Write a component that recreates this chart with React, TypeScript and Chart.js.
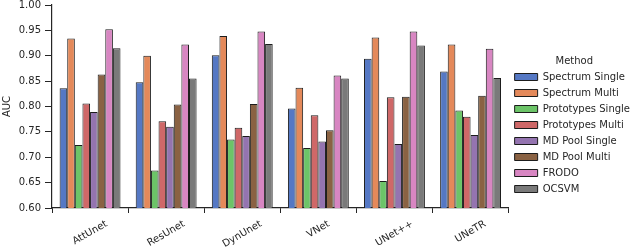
import React, { useEffect, useRef } from "react";
import { Chart, registerables, CategoryScale } from "chart.js";

const categories = ["AttUnet", "ResUnet", "DynUnet", "VNet", "UNet++", "UNeTR"];
const methods = [
  "Spectrum Single",
  "Spectrum Multi",
  "Prototypes Single",
  "Prototypes Multi",
  "MD Pool Single",
  "MD Pool Multi",
  "FRODO",
  "OCSVM",
];
const spectrumSingle = [0.836, 0.848, 0.901, 0.796, 0.894, 0.869];
const spectrumMulti = [0.934, 0.9, 0.939, 0.837, 0.936, 0.922];
const prototypesSingle = [0.724, 0.674, 0.735, 0.718, 0.653, 0.792];
const prototypesMulti = [0.806, 0.771, 0.758, 0.783, 0.818, 0.78];
const mdPoolSingle = [0.789, 0.76, 0.742, 0.731, 0.726, 0.744];
const mdPoolMulti = [0.863, 0.804, 0.805, 0.753, 0.819, 0.821];
const frodo = [0.952, 0.922, 0.948, 0.861, 0.948, 0.914];
const ocsvm = [0.915, 0.855, 0.923, 0.855, 0.92, 0.856];
const yTicks = [0.6, 0.65, 0.7, 0.75, 0.8, 0.85, 0.9, 0.95, 1.0];

const seriesValues = [
  spectrumSingle,
  spectrumMulti,
  prototypesSingle,
  prototypesMulti,
  mdPoolSingle,
  mdPoolMulti,
  frodo,
  ocsvm,
];
const colors = [
  "#5578c4",
  "#e4895a",
  "#6cc468",
  "#cf6868",
  "#9474b0",
  "#8a6243",
  "#d886c2",
  "#7a7a7a",
];

const FONT = "'DejaVu Sans', sans-serif";
const TEXT = "#262626";
const FS = 10;

// Category scale whose rotated labels are centred on the tick (matplotlib style)
class CenteredCategoryScale extends (CategoryScale as any) {
  static id = "centeredCategory";
  static defaults = (CategoryScale as any).defaults;
  _computeLabelItems(chartArea: any) {
    const items = super._computeLabelItems(chartArea);
    const ctx = this.ctx;
    const rot = (this.labelRotation * Math.PI) / 180;
    const grid = this.options.grid;
    const tl = grid.display && grid.drawTicks ? grid.tickLength : 0;
    const pad = this.options.ticks.padding;
    items.forEach((item: any, i: number) => {
      ctx.save();
      ctx.font = item.font.string;
      const w = ctx.measureText(String(item.label)).width;
      ctx.restore();
      const h = item.font.lineHeight;
      const vExt = w * Math.sin(rot) + h * Math.cos(rot);
      const x = this.getPixelForTick(i);
      const y = this.top + tl + pad + vExt / 2;
      item.options.translation = [x, y];
      item.options.textAlign = "center";
      item.options.textBaseline = "middle";
      item.textOffset = 0;
    });
    return items;
  }
}

Chart.register(...registerables, CenteredCategoryScale as any);

export default function App() {
  const ref = useRef<HTMLCanvasElement | null>(null);
  useEffect(() => {
    if (!ref.current) return;
    const chart = new Chart(ref.current, {
      type: "bar",
      data: {
        labels: categories,
        datasets: methods.map((m, i) => ({
          label: m,
          data: seriesValues[i],
          backgroundColor: colors[i],
          borderColor: "#1c1c1c",
          borderWidth: 1,
          categoryPercentage: 0.8,
          barPercentage: 1.0,
          borderSkipped: false,
        })),
      },
      options: {
        responsive: false,
        animation: false,
        datasets: { bar: { categoryPercentage: 0.8, barPercentage: 1.0 } },
        layout: { padding: { top: 0, right: 0, left: 0, bottom: 0 } },
        plugins: {
          tooltip: { enabled: false },
          legend: {
            position: "right",
            align: "center",
            title: {
              display: true,
              text: "Method",
              color: TEXT,
              font: { family: FONT, size: FS },
              padding: { top: 7, bottom: -2 },
            },
            labels: {
              boxWidth: 23,
              boxHeight: 7,
              padding: 6,
              color: TEXT,
              font: { family: FONT, size: FS },
            },
          },
        },
        scales: {
          x: {
            type: "centeredCategory" as any,
            grid: {
              drawOnChartArea: false,
              drawTicks: true,
              tickLength: 5,
              color: TEXT,
            },
            border: { display: true, color: TEXT, width: 1.2 },
            ticks: {
              color: TEXT,
              font: { family: FONT, size: FS },
              minRotation: 30,
              maxRotation: 30,
              autoSkip: false,
              padding: 5,
            },
            afterFit: (s: any) => {
              s.height = 41;
            },
          },
          y: {
            min: 0.6,
            max: 1.0,
            afterBuildTicks: (s: any) => {
              s.ticks = yTicks.map((v) => ({ value: v }));
            },
            grid: {
              drawOnChartArea: false,
              drawTicks: true,
              tickLength: 7,
              color: TEXT,
            },
            border: { display: true, color: TEXT, width: 1.2 },
            ticks: {
              color: TEXT,
              font: { family: FONT, size: FS },
              padding: 4,
              callback: (v: any) => Number(v).toFixed(2),
            },
            title: {
              display: true,
              text: "AUC",
              color: TEXT,
              font: { family: FONT, size: FS },
              padding: { top: 1, bottom: 0 },
            },
            afterFit: (s: any) => {
              s.width = 52;
              s.paddingTop = 5;
            },
          },
        },
      } as any,
    });
    return () => chart.destroy();
  }, []);
  return (
    <div style={{ position: "absolute", left: 0, top: 0, width: 640, height: 249, background: "#fff" }}>
      <canvas ref={ref} width={640} height={249} style={{ display: "block" }} />
    </div>
  );
}
